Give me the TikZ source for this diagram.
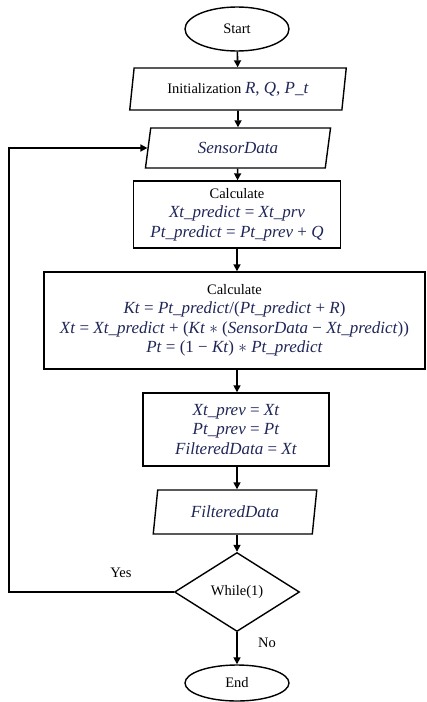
\documentclass[tikz,border=0pt]{standalone}
\usepackage{fontspec}
\setmainfont{Liberation Serif}
\usetikzlibrary{shapes.geometric,arrows.meta}
\definecolor{navy}{RGB}{32,38,88}
\newcommand{\eqline}[1]{{\fontsize{17}{19.5}\selectfont\color{navy}#1}}
\newcommand{\vv}[1]{\textit{#1}}
\begin{document}
\begin{tikzpicture}[x=1pt,y=-1pt,
  every node/.style={font=\fontsize{14.5}{19.5}\selectfont, inner sep=0pt},
  term/.style={draw, ellipse, line width=1.4pt, minimum width=104pt, minimum height=44pt},
  io/.style={draw, trapezium, trapezium left angle=78, trapezium right angle=102,
             trapezium stretches=true, line width=1.4pt},
  box/.style={draw, rectangle, line width=1.4pt, align=center},
  dec/.style={draw, diamond, line width=1.4pt, minimum width=125pt, minimum height=79pt},
  arr/.style={line width=1.6pt, -{Triangle[length=7pt,width=7pt]}},
  lbl/.style={font=\fontsize{14.5}{18}\selectfont}]
\useasboundingbox (0,0) rectangle (427,702);
\node[term] (start) at (237,29) {Start};
\node[io, minimum width=217pt, minimum height=42pt] (init) at (238,89)
  {Initialization \eqline{\vv{R}, \vv{Q}, \vv{P\_t}}};
\node[io, minimum width=186pt, minimum height=40pt] (sensor) at (238,148) {\eqline{\vv{SensorData}}};
\node[box, minimum width=207pt, minimum height=67pt] (calc1) at (237,214.5)
  {Calculate\\ \eqline{\vv{Xt\_predict} =\ \vv{Xt\_prv}}\\
   \eqline{\vv{Pt\_predict} =\ \vv{Pt\_prev} + \vv{Q}}};
\node[box, minimum width=381pt, minimum height=97pt] (calc2) at (234.5,320.5)
  {Calculate\\ \eqline{\vv{Kt} =\ \vv{Pt\_predict}/(\vv{Pt\_predict} + \vv{R})}\\
   \eqline{\vv{Xt} = \vv{Xt\_predict} + (\vv{Kt} $*$ (\vv{SensorData} − \vv{Xt\_predict}))}\\
   \eqline{\vv{Pt} =\ (1 − \vv{Kt}) $*$ \vv{Pt\_predict}}};
\node[box, minimum width=186pt, minimum height=73pt] (calc3) at (236,429.5)
  {\eqline{\vv{Xt\_prev} =\ \vv{Xt}}\\
   \eqline{\vv{Pt\_prev} =\ \vv{Pt}}\\
   \eqline{\vv{FilteredData} =\ \vv{Xt}}};
\node[io, minimum width=164pt, minimum height=44pt] (filt) at (235,512) {\eqline{\vv{FilteredData}}};
\node[dec] (while) at (237,592) {While(1)};
\node[term, minimum height=36pt] (end) at (237,683) {End};
\coordinate (lp) at (9,592);
\node[lbl] (yes) at (121,573) {Yes};
\node[lbl] (no) at (267,643) {No};
\draw[arr] (start) -- (init);
\draw[arr] (init) -- (sensor);
\draw[arr] (sensor) -- (calc1);
\draw[arr] (calc1.south -| 237,0) -- (calc2.north -| 237,0);
\draw[arr] (calc2.south -| 237,0) -- (calc3.north -| 237,0);
\draw[arr] (calc3.south -| 237,0) -- (filt.north -| 237,0);
\draw[arr] (filt.south -| 237,0) -- (while.north);
\draw[arr] (while) -- (end);
\draw[arr] (while.west) -- (lp) |- (sensor.west);
\end{tikzpicture}
\end{document}
